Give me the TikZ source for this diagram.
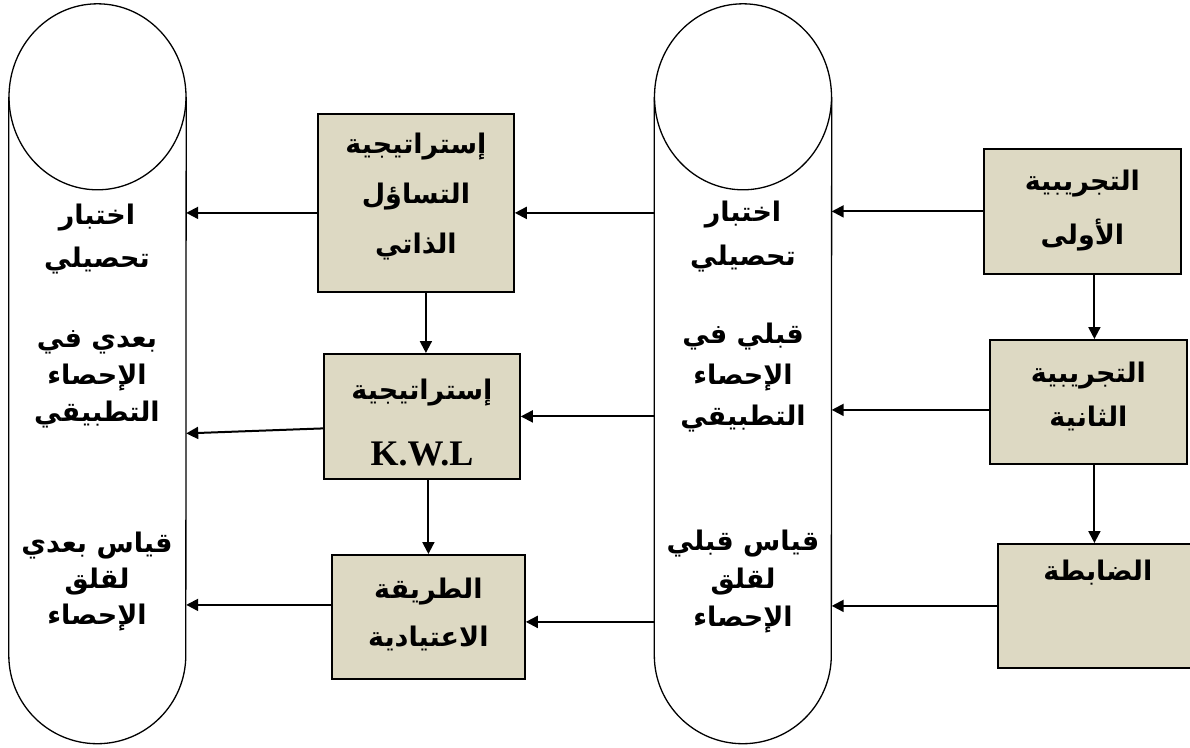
\documentclass[tikz,border=0pt]{standalone}
\usepackage{fontspec}
\newfontfamily\arabicfont[Script=Arabic]{DejaVu Sans}
\newfontfamily\kwlfont{Liberation Serif}
\TeXXeTstate=1
\usetikzlibrary{arrows.meta}
\definecolor{boxtan}{HTML}{DDD9C3}
\newcommand\arline[1]{\beginR #1\endR}
\def \cylRadius {88.5}
\def \cylTop {93}
\tikzset{
  box/.style={draw, line width=1.8pt, fill=boxtan, anchor=north west, inner sep=0pt},
  cylbody/.style={inner sep=0pt, minimum width=177pt, minimum height=558pt},
  cyl/.style={line width=1.3pt},
  txt/.style={align=center, font=\arabicfont\bfseries\fontsize{27}{40}\selectfont},
  arr/.style={-{Triangle[length=12pt,width=12pt]}, line width=2pt},
}
\begin{document}
\begin{tikzpicture}[x=1pt, y=1pt]
      \useasboundingbox (0,0) rectangle (1190,-747);
      \node[cylbody] (leftcyl) at (97.5,-376) {};
      \node[cylbody] (midcyl) at (743,-376) {};
      \draw[cyl] (leftcyl.north west) -- (leftcyl.south west) arc[start angle=180, end angle=360, radius=\cylRadius] -- (leftcyl.north east);
      \draw[cyl] (leftcyl.north) ellipse[x radius=\cylRadius, y radius=\cylTop];
      \draw[cyl] (midcyl.north west) -- (midcyl.south west) arc[start angle=180, end angle=360, radius=\cylRadius] -- (midcyl.north east);
      \draw[cyl] (midcyl.north) ellipse[x radius=\cylRadius, y radius=\cylTop];
      \node[txt, font=\arabicfont\bfseries\fontsize{27}{43}\selectfont] (ltop) at (97,-239) {\arline{اختبار}\\\arline{تحصيلي}};
      \node[txt, font=\arabicfont\bfseries\fontsize{27}{37}\selectfont] (lmid) at (97,-379) {\arline{بعدي في}\\\arline{الإحصاء}\\\arline{التطبيقي}};
      \node[txt, font=\arabicfont\bfseries\fontsize{27}{36}\selectfont] (lbot) at (97,-582) {\arline{قياس بعدي}\\\arline{لقلق}\\\arline{الإحصاء}};
      \node[txt, font=\arabicfont\bfseries\fontsize{27}{44}\selectfont] (mtop) at (743,-237) {\arline{اختبار}\\\arline{تحصيلي}};
      \node[txt, font=\arabicfont\bfseries\fontsize{27}{41}\selectfont] (mmid) at (743,-378) {\arline{قبلي في}\\\arline{الإحصاء}\\\arline{التطبيقي}};
      \node[txt, font=\arabicfont\bfseries\fontsize{27}{38}\selectfont] (mbot) at (743,-582) {\arline{قياس قبلي}\\\arline{لقلق}\\\arline{الإحصاء}};
      \node[box, minimum width=196pt, minimum height=178pt] (A) at (317,-113) {};
      \node[box, minimum width=196pt, minimum height=125pt] (B) at (323,-353) {};
      \node[box, minimum width=193pt, minimum height=124pt] (C) at (331,-554) {};
      \node[box, minimum width=197pt, minimum height=125pt] (D) at (983,-148) {};
      \node[box, minimum width=197pt, minimum height=124pt] (E) at (989,-339) {};
      \node[box, minimum width=200pt, minimum height=124pt] (F) at (997,-543) {};
      \node[txt, font=\arabicfont\bfseries\fontsize{27}{50}\selectfont] (Atxt) at ([yshift=6pt]A.center) {\arline{إستراتيجية}\\\arline{التساؤل}\\\arline{الذاتي}};
      \node[txt] (Btxt) at ([yshift=-6pt]B.center) {\arline{إستراتيجية}\\[26pt]{\kwlfont\bfseries\fontsize{36}{36}\selectfont K.W.L}};
      \node[txt, font=\arabicfont\bfseries\fontsize{27}{48}\selectfont] (Ctxt) at ([yshift=2pt]C.center) {\arline{الطريقة}\\\arline{الاعتيادية}};
      \node[txt, font=\arabicfont\bfseries\fontsize{27}{54}\selectfont] (Dtxt) at ([yshift=1pt]D.center) {\arline{التجريبية}\\\arline{الأولى}};
      \node[txt, font=\arabicfont\bfseries\fontsize{27}{44}\selectfont] (Etxt) at ([yshift=5pt]E.center) {\arline{التجريبية}\\\arline{الثانية}};
      \node[txt] (Ftxt) at ([yshift=-30pt]F.north) {\arline{الضابطة}};
      \draw[arr] (D.west) -- (D.west -| midcyl.east);
      \draw[arr] ([yshift=-8pt]E.west) -- ([yshift=-8pt]E.west -| midcyl.east);
      \draw[arr] (F.west) -- (F.west -| midcyl.east);
      \draw[arr] ([yshift=-10pt]A.east -| midcyl.west) -- ([yshift=-10pt]A.east);
      \draw[arr] (B.east -| midcyl.west) -- (B.east);
      \draw[arr] ([yshift=-5pt]C.east -| midcyl.west) -- ([yshift=-5pt]C.east);
      \draw[arr] ([yshift=-10pt]A.west) -- ([yshift=-10pt]A.west -| leftcyl.east);
      \draw[arr] ([yshift=-12pt]B.west) -- ([yshift=-17pt]B.west -| leftcyl.east);
      \draw[arr] ([yshift=12pt]C.west) -- ([yshift=12pt]C.west -| leftcyl.east);
      \draw[arr] ([xshift=4pt]B.north |- A.south) -- ([xshift=4pt]B.north);
      \draw[arr] (B.south -| C.north) -- (C.north);
      \draw[arr] ([xshift=6pt]E.north |- D.south) -- ([xshift=6pt]E.north);
      \draw[arr] ([xshift=6pt]E.south) -- ([xshift=6pt]E.south |- F.north);
   \end{tikzpicture}
\end{document}
